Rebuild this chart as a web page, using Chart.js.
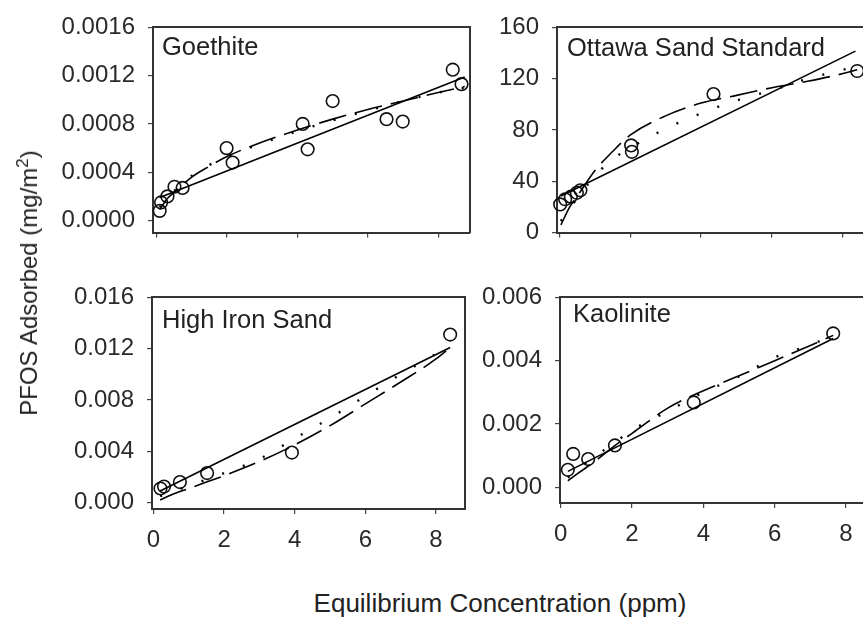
<!DOCTYPE html>
<html>
<head>
<meta charset="utf-8">
<script src="https://cdn.jsdelivr.net/npm/chart.js@4.4.0/dist/chart.umd.min.js"></script>
<style>
html,body{margin:0;padding:0;background:#fff;}
body{width:863px;height:620px;overflow:hidden;position:relative;font-family:'Liberation Sans',Arial,Helvetica,sans-serif;color:#222;}
canvas{position:absolute;}
.t{position:absolute;font-size:24px;line-height:1;white-space:nowrap;color:#222;}
.p{font-size:25.5px;}
</style>
</head>
<body>
<canvas id="c1" width="480" height="260" style="left:0;top:0"></canvas>
<canvas id="c2" width="480" height="260" style="left:430px;top:0"></canvas>
<canvas id="c3" width="480" height="290" style="left:0;top:270px"></canvas>
<canvas id="c4" width="480" height="290" style="left:430px;top:270px"></canvas>

<div class="t p" style="left:162px;top:34px">Goethite</div>
<div class="t p" style="left:567px;top:35px">Ottawa Sand Standard</div>
<div class="t p" style="left:162px;top:307px">High Iron Sand</div>
<div class="t p" style="left:573px;top:301px">Kaolinite</div>
<div class="t" style="left:29px;top:283px;transform:translate(-50%,-50%) rotate(-90deg);">PFOS Adsorbed (mg/m<sup style="font-size:17px;vertical-align:9px;line-height:0">2</sup>)</div>
<div class="t" style="left:500px;top:603px;font-size:26px;transform:translate(-50%,-50%);">Equilibrium Concentration (ppm)</div>

<script>
// ---------- tick labels ----------
const xTickValues = [0, 2, 4, 6, 8];
const xTickLabels = ['0', '2', '4', '6', '8'];

const goethiteYTicks = [0, 0.0004, 0.0008, 0.0012, 0.0016];
const goethiteYLabels = ['0.0000', '0.0004', '0.0008', '0.0012', '0.0016'];
const ottawaYTicks = [0, 40, 80, 120, 160];
const ottawaYLabels = ['0', '40', '80', '120', '160'];
const highIronYTicks = [0, 0.004, 0.008, 0.012, 0.016];
const highIronYLabels = ['0.000', '0.004', '0.008', '0.012', '0.016'];
const kaoliniteYTicks = [0, 0.002, 0.004, 0.006];
const kaoliniteYLabels = ['0.000', '0.002', '0.004', '0.006'];

// ---------- Goethite ----------
const goethiteObsX = [0.09, 0.13, 0.31, 0.51, 0.74, 1.99, 2.16, 4.15, 4.29, 5.00, 6.53, 6.99, 8.41, 8.66];
const goethiteObsY = [0.00008, 0.00015, 0.00020, 0.00028, 0.00027, 0.00060, 0.00048, 0.00080, 0.00059, 0.00099, 0.00084, 0.00082, 0.00125, 0.00113];
const goethiteLinX = [0.09, 8.75];
const goethiteLinY = [0.00019, 0.00119];
const goethiteFitX = [0.09, 0.3, 0.6, 1.0, 1.5, 2.0, 3.0, 4.0, 5.0, 6.0, 7.0, 8.0, 8.75];
const goethiteDashY = [0.00009, 0.00018, 0.00026, 0.00036, 0.00045, 0.00053, 0.00065, 0.00075, 0.00084, 0.00092, 0.00099, 0.00106, 0.00111];
const goethiteDotY = [0.00011, 0.00019, 0.00027, 0.00037, 0.00046, 0.00053, 0.00064, 0.00074, 0.00083, 0.00091, 0.00099, 0.00106, 0.00110];

// ---------- Ottawa Sand Standard ----------
const ottawaObsX = [0.03, 0.17, 0.33, 0.50, 0.60, 2.03, 2.05, 4.35, 8.40];
const ottawaObsY = [22, 26, 28, 31, 33, 68, 63, 108, 126];
const ottawaLinX = [0.05, 8.35];
const ottawaLinY = [28.5, 141.5];
const ottawaFitX = [0.05, 0.3, 0.6, 1.0, 1.5, 2.0, 3.0, 4.0, 5.0, 6.0, 7.0, 8.0, 8.4];
const ottawaDashY = [6, 20, 32, 48, 63, 76, 91, 101, 107, 113, 118, 124, 127];
const ottawaDotY = [9, 19, 30, 44, 57, 66, 81, 93, 103, 111, 120, 127, 130];

// ---------- High Iron Sand ----------
const highIronObsX = [0.20, 0.30, 0.75, 1.52, 3.92, 8.40];
const highIronObsY = [0.0011, 0.00125, 0.0016, 0.0023, 0.0039, 0.0131];
const highIronLinX = [0.19, 8.4];
const highIronLinY = [0.0009, 0.0121];
const highIronFitX = [0.19, 0.5, 1.0, 1.5, 2.0, 3.0, 4.0, 5.0, 6.0, 7.0, 8.0, 8.4];
const highIronDashY = [0.0002, 0.0006, 0.0011, 0.0016, 0.0021, 0.0032, 0.0045, 0.0060, 0.0077, 0.0094, 0.0112, 0.0121];
const highIronDotY = [0.0005, 0.0008, 0.0013, 0.0018, 0.0023, 0.0034, 0.0050, 0.0066, 0.0083, 0.0100, 0.0116, 0.0123];

// ---------- Kaolinite ----------
const kaoliniteObsX = [0.20, 0.35, 0.77, 1.52, 3.73, 7.64];
const kaoliniteObsY = [0.00055, 0.00105, 0.00089, 0.00132, 0.00268, 0.00486];
const kaoliniteLinX = [0.2, 7.64];
const kaoliniteLinY = [0.0005, 0.0047];
const kaoliniteFitX = [0.2, 0.5, 1.0, 1.5, 2.0, 3.0, 4.0, 5.0, 6.0, 7.0, 7.64];
const kaoliniteDashY = [0.00020, 0.00045, 0.00085, 0.0013, 0.0017, 0.0025, 0.00305, 0.00352, 0.0040, 0.00448, 0.0048];
const kaoliniteDotY = [0.0003, 0.0006, 0.0010, 0.0014, 0.0018, 0.0024, 0.0030, 0.0035, 0.0041, 0.0045, 0.0048];

// ---------- drawing ----------
Chart.defaults.font.family = "'Liberation Sans', Arial, Helvetica, sans-serif";
Chart.defaults.font.size = 24;
Chart.defaults.color = '#2a2a2a';

function pts(xs, ys) { return xs.map((x, i) => ({ x: x, y: ys[i] })); }
function fixTicks(vals) { return s => { s.ticks = vals.map(v => ({ value: v })); }; }

function makePanel(p) {
  const frame = { display: true, color: '#333', width: 2 };
  new Chart(document.getElementById(p.id), {
    type: 'scatter',
    data: {
      datasets: [
        { data: pts(p.fitX, p.dotY), showLine: true, borderColor: '#000', borderWidth: 2.4, borderDash: [2, 20],
          pointRadius: 0, cubicInterpolationMode: 'monotone', clip: false },
        { data: pts(p.fitX, p.dashY), showLine: true, borderColor: '#000', borderWidth: 1.6, borderDash: [28, 9],
          pointRadius: 0, cubicInterpolationMode: 'monotone', clip: false },
        { data: pts(p.linX, p.linY), showLine: true, borderColor: '#000', borderWidth: 1.6, pointRadius: 0, clip: false },
        { data: pts(p.obsX, p.obsY), showLine: false, pointRadius: 6.3, pointBorderWidth: 1.6,
          pointBorderColor: '#111', pointBackgroundColor: 'rgba(255,255,255,0)', clip: false }
      ]
    },
    options: {
      responsive: false, animation: false, events: [],
      layout: { padding: { top: p.padTop, right: p.padRight, left: 0, bottom: 0 } },
      plugins: { legend: { display: false }, tooltip: { enabled: false } },
      scales: {
        x: {
          type: 'linear', position: 'bottom', min: p.xMin, max: p.xMax,
          afterBuildTicks: fixTicks(xTickValues),
          ticks: { display: p.showX, padding: 12, autoSkip: false, maxRotation: 0, callback: (v, i) => xTickLabels[i] },
          grid: { drawOnChartArea: false, drawTicks: true, tickLength: 5, color: '#444', lineWidth: 1.2 },
          border: frame,
          afterFit: s => { s.height = p.axisBottom; }
        },
        y: {
          type: 'linear', position: 'left', min: p.yMin, max: p.yMax,
          afterBuildTicks: fixTicks(p.yTicks),
          ticks: { padding: 13, autoSkip: false, callback: (v, i) => p.yLabels[i] },
          grid: { drawOnChartArea: false, drawTicks: true, tickLength: 5, color: '#444', lineWidth: 1.2 },
          border: frame,
          afterFit: s => { s.width = p.axisLeft; }
        },
        xTop: {
          type: 'linear', position: 'top', min: p.xMin, max: p.xMax,
          ticks: { display: false }, grid: { display: false, drawTicks: false }, border: frame,
          afterFit: s => { s.height = 0; }
        },
        yRight: {
          type: 'linear', position: 'right', min: p.yMin, max: p.yMax,
          ticks: { display: false }, grid: { display: false, drawTicks: false }, border: frame,
          afterFit: s => { s.width = 0; }
        }
      }
    }
  });
}

makePanel({ id: 'c1', xMin: -0.1, xMax: 8.9, yMin: -0.0001, yMax: 0.0016,
  yTicks: goethiteYTicks, yLabels: goethiteYLabels, showX: false,
  obsX: goethiteObsX, obsY: goethiteObsY, linX: goethiteLinX, linY: goethiteLinY,
  fitX: goethiteFitX, dashY: goethiteDashY, dotY: goethiteDotY,
  padTop: 25, padRight: 10, axisLeft: 153, axisBottom: 21 });

makePanel({ id: 'c2', xMin: -0.06, xMax: 9.0, yMin: 0, yMax: 160,
  yTicks: ottawaYTicks, yLabels: ottawaYLabels, showX: false,
  obsX: ottawaObsX, obsY: ottawaObsY, linX: ottawaLinX, linY: ottawaLinY,
  fitX: ottawaFitX, dashY: ottawaDashY, dotY: ottawaDotY,
  padTop: 25, padRight: 31.5, axisLeft: 127, axisBottom: 22 });

makePanel({ id: 'c3', xMin: -0.04, xMax: 8.82, yMin: -0.0005, yMax: 0.016,
  yTicks: highIronYTicks, yLabels: highIronYLabels, showX: true,
  obsX: highIronObsX, obsY: highIronObsY, linX: highIronLinX, linY: highIronLinY,
  fitX: highIronFitX, dashY: highIronDashY, dotY: highIronDotY,
  padTop: 25, padRight: 15, axisLeft: 152, axisBottom: 51 });

makePanel({ id: 'c4', xMin: -0.02, xMax: 9.0, yMin: -0.0005, yMax: 0.006,
  yTicks: kaoliniteYTicks, yLabels: kaoliniteYLabels, showX: true,
  obsX: kaoliniteObsX, obsY: kaoliniteObsY, linX: kaoliniteLinX, linY: kaoliniteLinY,
  fitX: kaoliniteFitX, dashY: kaoliniteDashY, dotY: kaoliniteDotY,
  padTop: 22, padRight: 28.3, axisLeft: 130, axisBottom: 57 });
</script>
</body>
</html>
